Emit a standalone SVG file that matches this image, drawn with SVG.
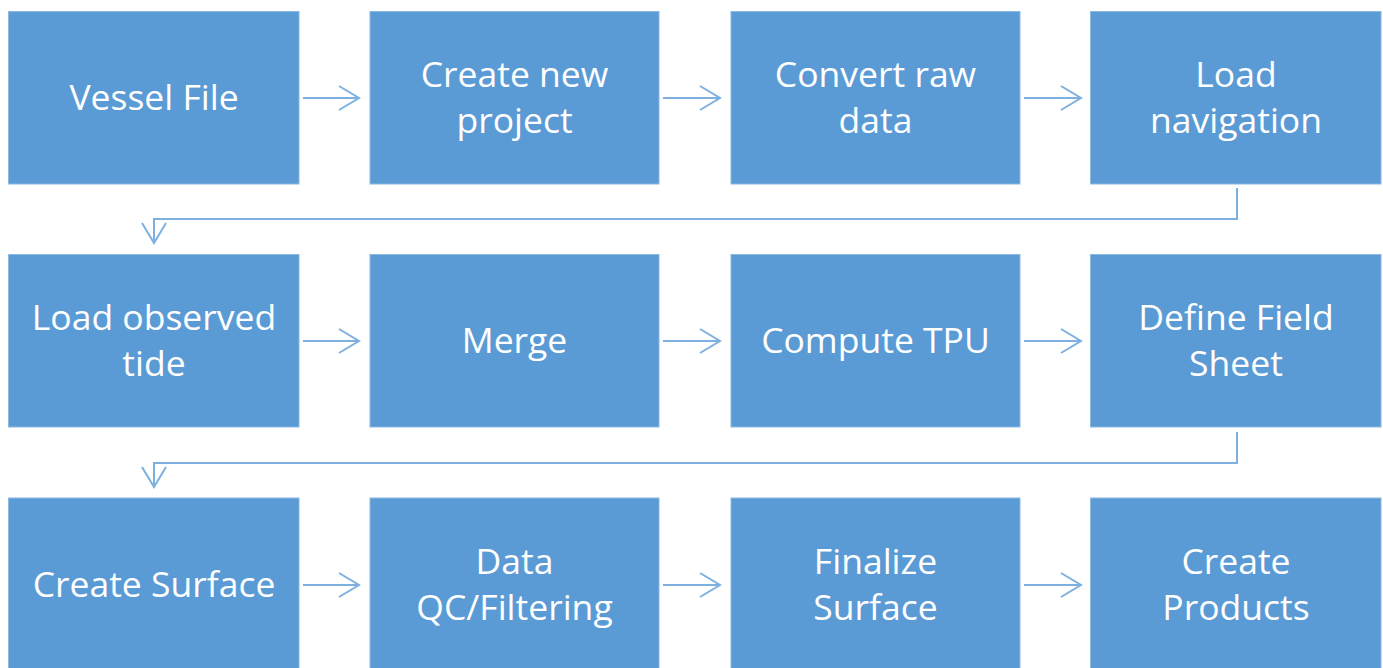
<svg xmlns="http://www.w3.org/2000/svg" width="1383" height="668" viewBox="0 0 1383 668">
<style>
.box{fill:#5b9bd5;stroke:#8cb8e2;stroke-width:1}
.t{font-family:"Open Sans","Noto Sans",sans-serif;font-size:35.5px;fill:#ffffff;text-anchor:middle}
.c{fill:none;stroke:#7eb0df;stroke-width:2}
</style>
<defs>
<marker id="ah" markerUnits="userSpaceOnUse" markerWidth="30" markerHeight="30" refX="21" refY="13" orient="auto">
<path d="M1 1 L21 13 L1 25" fill="none" stroke="#7eb0df" stroke-width="2"/>
</marker>
</defs>
<rect width="1383" height="668" fill="#ffffff"/>
<g id="connectors">
<path class="c" d="M303 98 H359" marker-end="url(#ah)"/>
<path class="c" d="M663 98 H720" marker-end="url(#ah)"/>
<path class="c" d="M1024 98 H1081" marker-end="url(#ah)"/>
<path class="c" d="M1237 188 V219 H154 V243" marker-end="url(#ah)"/>
<path class="c" d="M303 341 H359" marker-end="url(#ah)"/>
<path class="c" d="M663 341 H720" marker-end="url(#ah)"/>
<path class="c" d="M1024 341 H1081" marker-end="url(#ah)"/>
<path class="c" d="M1237 432 V463 H154 V487" marker-end="url(#ah)"/>
<path class="c" d="M303 585 H359" marker-end="url(#ah)"/>
<path class="c" d="M663 585 H720" marker-end="url(#ah)"/>
<path class="c" d="M1024 585 H1081" marker-end="url(#ah)"/>
</g>
<g id="n1"><rect class="box" x="8.5" y="11.5" width="290.5" height="172.5"/><text class="t" x="154" y="109.5">Vessel File</text></g>
<g id="n2"><rect class="box" x="370" y="11.5" width="289" height="172.5"/><text class="t" x="514.5" y="86.5">Create new</text><text class="t" x="514.5" y="132.5">project</text></g>
<g id="n3"><rect class="box" x="731" y="11.5" width="289" height="172.5"/><text class="t" x="875.5" y="86.5">Convert raw</text><text class="t" x="875.5" y="132.5">data</text></g>
<g id="n4"><rect class="box" x="1090.5" y="11.5" width="290.5" height="172.5"/><text class="t" x="1236" y="86.5">Load</text><text class="t" x="1236" y="132.5">navigation</text></g>
<g id="n5"><rect class="box" x="8.5" y="254.5" width="290.5" height="172.5"/><text class="t" x="154" y="329.5">Load observed</text><text class="t" x="154" y="375.5">tide</text></g>
<g id="n6"><rect class="box" x="370" y="254.5" width="289" height="172.5"/><text class="t" x="514.5" y="352.5">Merge</text></g>
<g id="n7"><rect class="box" x="731" y="254.5" width="289" height="172.5"/><text class="t" x="875.5" y="352.5">Compute TPU</text></g>
<g id="n8"><rect class="box" x="1090.5" y="254.5" width="290.5" height="172.5"/><text class="t" x="1236" y="329.5">Define Field</text><text class="t" x="1236" y="375.5">Sheet</text></g>
<g id="n9"><rect class="box" x="8.5" y="498" width="290.5" height="172.5"/><text class="t" x="154" y="596.5">Create Surface</text></g>
<g id="n10"><rect class="box" x="370" y="498" width="289" height="172.5"/><text class="t" x="514.5" y="573.5">Data</text><text class="t" x="514.5" y="619.5">QC/Filtering</text></g>
<g id="n11"><rect class="box" x="731" y="498" width="289" height="172.5"/><text class="t" x="875.5" y="573.5">Finalize</text><text class="t" x="875.5" y="619.5">Surface</text></g>
<g id="n12"><rect class="box" x="1090.5" y="498" width="290.5" height="172.5"/><text class="t" x="1236" y="573.5">Create</text><text class="t" x="1236" y="619.5">Products</text></g>
</svg>
